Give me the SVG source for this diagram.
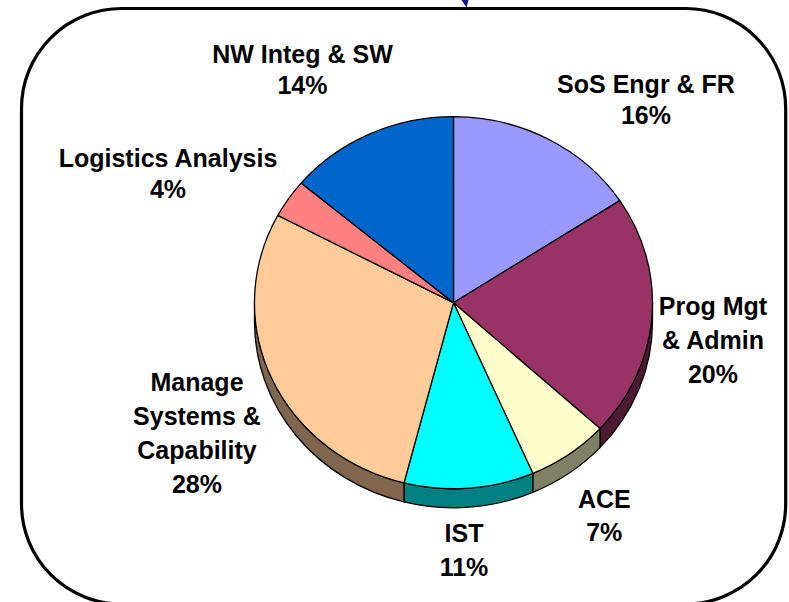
<svg xmlns="http://www.w3.org/2000/svg" width="789" height="602" viewBox="0 0 789 602">
<style>
.lbl{font-family:"Liberation Sans",Arial,sans-serif;font-weight:bold;font-size:25px;fill:#000;text-anchor:middle}
.s{stroke:#000;stroke-width:1.3;stroke-linejoin:round}
</style>
<rect width="789" height="602" fill="#fff"/>
<rect id="frame" x="21.5" y="8.5" width="764.2" height="595.5" rx="100" ry="100" fill="none" stroke="#000" stroke-width="3.2"/>
<g id="connectors">
<polygon points="461.5,0 468.5,0 466.5,7.5" fill="#10109a"/>
</g>
<g id="pie-sides">
<path class="s" fill="#4d1a33" d="M652.5,302.7 A199,186 0 0 1 600,428.6 L600,447.6 A199,186 0 0 0 652.5,321.7 Z"/>
<path class="s" fill="#808066" d="M600,428.6 A199,186 0 0 1 532.8,473.3 L532.8,492.3 A199,186 0 0 0 600,447.6 Z"/>
<path class="s" fill="#008080" d="M532.8,473.3 A199,186 0 0 1 404,482.9 L404,501.9 A199,186 0 0 0 532.8,492.3 Z"/>
<path class="s" fill="#80664d" d="M404,482.9 A199,186 0 0 1 254.5,302.7 L254.5,321.7 A199,186 0 0 0 404,501.9 Z"/>
</g>
<g id="slice-sos">
<path class="s" fill="#9999ff" d="M453.5,302.7 L453.5,116.7 A199,186 0 0 1 619.8,200.6 Z"/>
<text class="lbl" x="646" y="93.3">SoS Engr &amp; FR</text>
<text class="lbl" x="646" y="124">16%</text>
</g>
<g id="slice-prog">
<path class="s" fill="#993366" d="M453.5,302.7 L619.8,200.6 A199,186 0 0 1 600,428.6 Z"/>
<text class="lbl" x="713" y="315">Prog Mgt</text>
<text class="lbl" x="713" y="349">&amp; Admin</text>
<text class="lbl" x="713" y="383">20%</text>
</g>
<g id="slice-ace">
<path class="s" fill="#ffffcc" d="M453.5,302.7 L600,428.6 A199,186 0 0 1 532.8,473.3 Z"/>
<text class="lbl" x="604.3" y="507.5">ACE</text>
<text class="lbl" x="604.3" y="540.5">7%</text>
</g>
<g id="slice-ist">
<path class="s" fill="#00ffff" d="M453.5,302.7 L532.8,473.3 A199,186 0 0 1 404,482.9 Z"/>
<text class="lbl" x="464" y="542">IST</text>
<text class="lbl" x="464" y="575.5">11%</text>
</g>
<g id="slice-manage">
<path class="s" fill="#ffcc99" d="M453.5,302.7 L404,482.9 A199,186 0 0 1 277.8,215.4 Z"/>
<text class="lbl" x="197" y="391">Manage</text>
<text class="lbl" x="197" y="425">Systems &amp;</text>
<text class="lbl" x="197" y="459">Capability</text>
<text class="lbl" x="197" y="493">28%</text>
</g>
<g id="slice-logistics">
<path class="s" fill="#ff8080" d="M453.5,302.7 L277.8,215.4 A199,186 0 0 1 301.1,183.1 Z"/>
<text class="lbl" x="168" y="166.7">Logistics Analysis</text>
<text class="lbl" x="168" y="198">4%</text>
</g>
<g id="slice-nw">
<path class="s" fill="#0066cc" d="M453.5,302.7 L301.1,183.1 A199,186 0 0 1 453.5,116.7 Z"/>
<text class="lbl" x="302.5" y="62.5">NW Integ &amp; SW</text>
<text class="lbl" x="302.5" y="94">14%</text>
</g>
</svg>
